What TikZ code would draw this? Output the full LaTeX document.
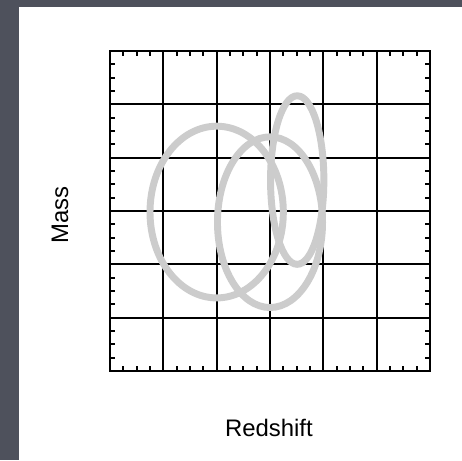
\documentclass[tikz,border=0pt]{standalone}
\usepackage{fontspec}
\setmainfont{Liberation Sans}
\usetikzlibrary{positioning}

\definecolor{slate}{RGB}{78,81,92}
\definecolor{track}{RGB}{204,204,204}

\begin{document}
\begin{tikzpicture}[
			every node/.style={font=\fontsize{12.75}{15}\selectfont, inner sep=0pt},
			gridline/.style={line width=0.95pt, black},
			tickmark/.style={line width=0.95pt, black},
			orbit/.style={draw=track, line width=3.7pt}]
			% frame and page
			\fill[slate] (-2.0625,-1.669) rectangle (6.6,6.956);
			\useasboundingbox (-2.0625,-1.669) rectangle (6.6,6.956);
			\fill[white] (-1.706,-1.669) rectangle (6.6,6.825);
			% grid and box
			\draw[gridline] (0,0) grid (6,6);
			\draw[gridline] (0,0) rectangle (6,6);
			\foreach \i in {0,...,5}
				\foreach \j in {0.25,0.5,0.75} {
					\draw[tickmark] (\i+\j,0) -- ++(0,0.09);
					\draw[tickmark] (\i+\j,6) -- ++(0,-0.09);
					\draw[tickmark] (0,\i+\j) -- ++(0.09,0);
					\draw[tickmark] (6,\i+\j) -- ++(-0.09,0);
				}
			% contours
			\draw[orbit] (2,2.98) ellipse [x radius=1.25, y radius=1.61];
			\draw[orbit] (3,2.79) ellipse [x radius=0.985, y radius=1.6];
			\draw[orbit] (3.51,3.58) ellipse [x radius=0.5, y radius=1.58];
			% axis labels
			\node[rotate=90] (mass) at (-0.9375,2.93) {Mass};
			\node[anchor=base] (redshift) at (2.98,-1.2375) {Redshift};
		\end{tikzpicture}
\end{document}
